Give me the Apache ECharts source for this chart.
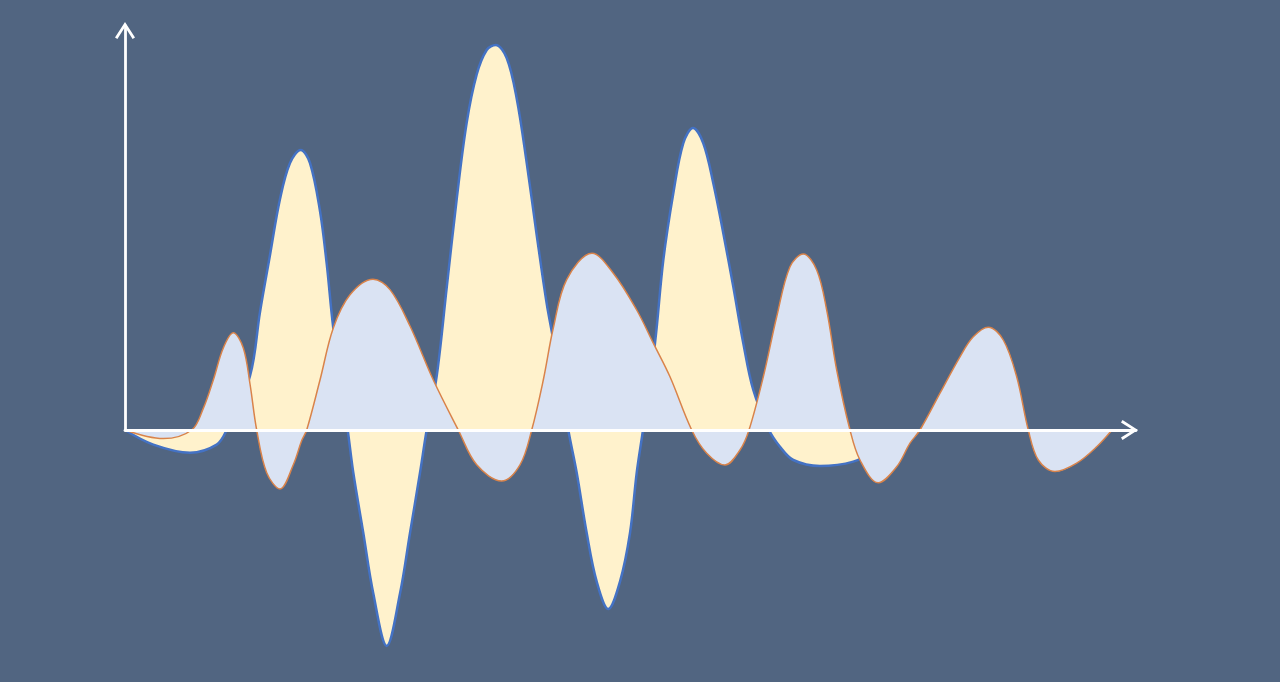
<!DOCTYPE html>
<html>
<head>
<meta charset="utf-8">
<script src="https://cdn.jsdelivr.net/npm/echarts@6/dist/echarts.min.js"></script>
<style>
html,body{margin:0;padding:0;background:#516581;}
#chart{width:1280px;height:682px;}
</style>
</head>
<body>
<div id="chart"></div>
<script>
// Series A: tall wave (cream fill, blue outline) — [x, y]
const waveA = [
  [0, 0], [2.83, -3.65], [6.5, -5.68], [9.17, -3.65], [10.17, 0],
  [12.5, 13.5], [13.5, 29.5], [14.5, 43.75], [15.5, 57.75], [16.5, 66.75], [17.57, 70],
  [18.5, 66.75], [19.5, 54.75], [20.17, 41.6], [20.83, 25.5], [22.27, 0],
  [22.83, -10.7], [23.83, -25.75], [24.83, -40.9], [26.17, -54], [27.5, -40.9], [28.5, -25.75], [29.5, -10.7], [30.17, 0],
  [31.17, 13.5], [32.17, 35.6], [33.17, 57.75], [34.17, 76.85], [35.17, 88.9], [36.17, 95], [37.07, 96.25],
  [38.17, 93], [39.17, 82.9], [40.17, 66.8], [41.17, 48.75], [42.17, 31.6], [42.83, 22.5], [44.33, 0],
  [45.17, -10.7], [46.17, -25.75], [47.17, -37.9], [48.33, -44.75], [49.5, -37.9], [50.5, -25.75], [51.17, -10.7], [51.8, 0],
  [53, 21.75], [53.83, 42.5], [54.83, 59.2], [55.83, 71.7], [56.8, 75.5],
  [57.83, 71.7], [58.83, 61.7], [59.83, 49.2], [60.83, 35.8], [61.83, 21.7], [62.83, 10], [64.4, 0],
  [65.5, -4.2], [66.83, -7.5], [69.5, -9], [72.83, -7.9], [75, -5], [77, 0]
];

// Series B: lower wave (light blue fill, orange outline) — [x, y]
const waveB = [
  [0, 0], [3.83, -2.15], [6.67, 0],
  [7.83, 5.4], [8.83, 12.5], [9.83, 20.5], [10.83, 24.3], [11.83, 20.5], [12.5, 11.5], [13.17, 0],
  [14.17, -10.7], [15.5, -14.75], [16.83, -8.7], [17.67, -2.65], [18.17, 0],
  [19.5, 12.5], [20.83, 25.5], [22.5, 33.8], [24.8, 37.7], [26.5, 35.1], [28.5, 26], [30.83, 12.5], [33.33, 0],
  [35.17, -8.7], [37.67, -12.75], [39.5, -8.7], [40.67, 0],
  [41.83, 12.5], [42.83, 25.5], [44.17, 37.6], [46.7, 44.2], [48.83, 39.2], [51.17, 30], [52.83, 21.7], [54.5, 13.3], [56.67, 0],
  [58.17, -5.8], [60, -8.75], [61.5, -5], [62.4, 0],
  [63.83, 13.3], [65.17, 28.3], [66.5, 40.8], [67.83, 44], [69.17, 40], [70.17, 30], [71.17, 15], [72.5, 0],
  [73.5, -7.5], [75.33, -13.2], [77.17, -9.2], [78.5, -3.3], [79.5, 0],
  [81.5, 9.2], [83.5, 18.3], [84.83, 23.3], [86.33, 25.7], [87.83, 22.5], [89.17, 13.3], [90.33, 0],
  [91.33, -7.5], [93, -10.4], [95.17, -8.3], [97.17, -4.2], [98.7, 0]
];

const xRange = [0, 101.1];
const yRange = [-58, 102];

const chevron = 'path://M0,15.5 L10,0 L20,15.5 L17.6,17 L10,5 L2.4,17 Z';

const chart = echarts.init(document.getElementById('chart'));
chart.setOption({
  backgroundColor: '#516581',
  animation: false,
  grid: [
    { left: 125, width: 1011, top: 22, height: 640 },
    { left: 125, width: 1011, top: 26, height: 404 }
  ],
  xAxis: [
    {
      type: 'value', gridIndex: 0, min: xRange[0], max: xRange[1],
      z: 10,
      axisLine: {
        show: true, onZero: true,
        lineStyle: { color: '#ffffff', width: 2.8 },
        symbol: ['none', chevron], symbolSize: [20, 17], symbolOffset: [0, -6.5]
      },
      axisTick: { show: false }, axisLabel: { show: false }, splitLine: { show: false }
    },
    {
      type: 'value', gridIndex: 1, min: 0, max: 1, show: false
    }
  ],
  yAxis: [
    {
      type: 'value', gridIndex: 0, min: yRange[0], max: yRange[1], show: false
    },
    {
      type: 'value', gridIndex: 1, min: 0, max: 1,
      z: 10,
      axisLine: {
        show: true,
        lineStyle: { color: '#ffffff', width: 2.8 },
        symbol: ['none', chevron], symbolSize: [20, 17], symbolOffset: [0, -4.5]
      },
      axisTick: { show: false }, axisLabel: { show: false }, splitLine: { show: false }
    }
  ],
  series: [
    {
      type: 'line', xAxisIndex: 0, yAxisIndex: 0,
      data: waveA, smooth: 0.35, showSymbol: false, z: 2,
      lineStyle: { color: '#4472C4', width: 2.5 },
      areaStyle: { color: '#FFF2CC', opacity: 1 }
    },
    {
      type: 'line', xAxisIndex: 0, yAxisIndex: 0,
      data: waveB, smooth: 0.35, showSymbol: false, z: 3,
      lineStyle: { color: '#D9834A', width: 1.5 },
      areaStyle: { color: '#DAE3F3', opacity: 1 }
    }
  ]
});
</script>
</body>
</html>
